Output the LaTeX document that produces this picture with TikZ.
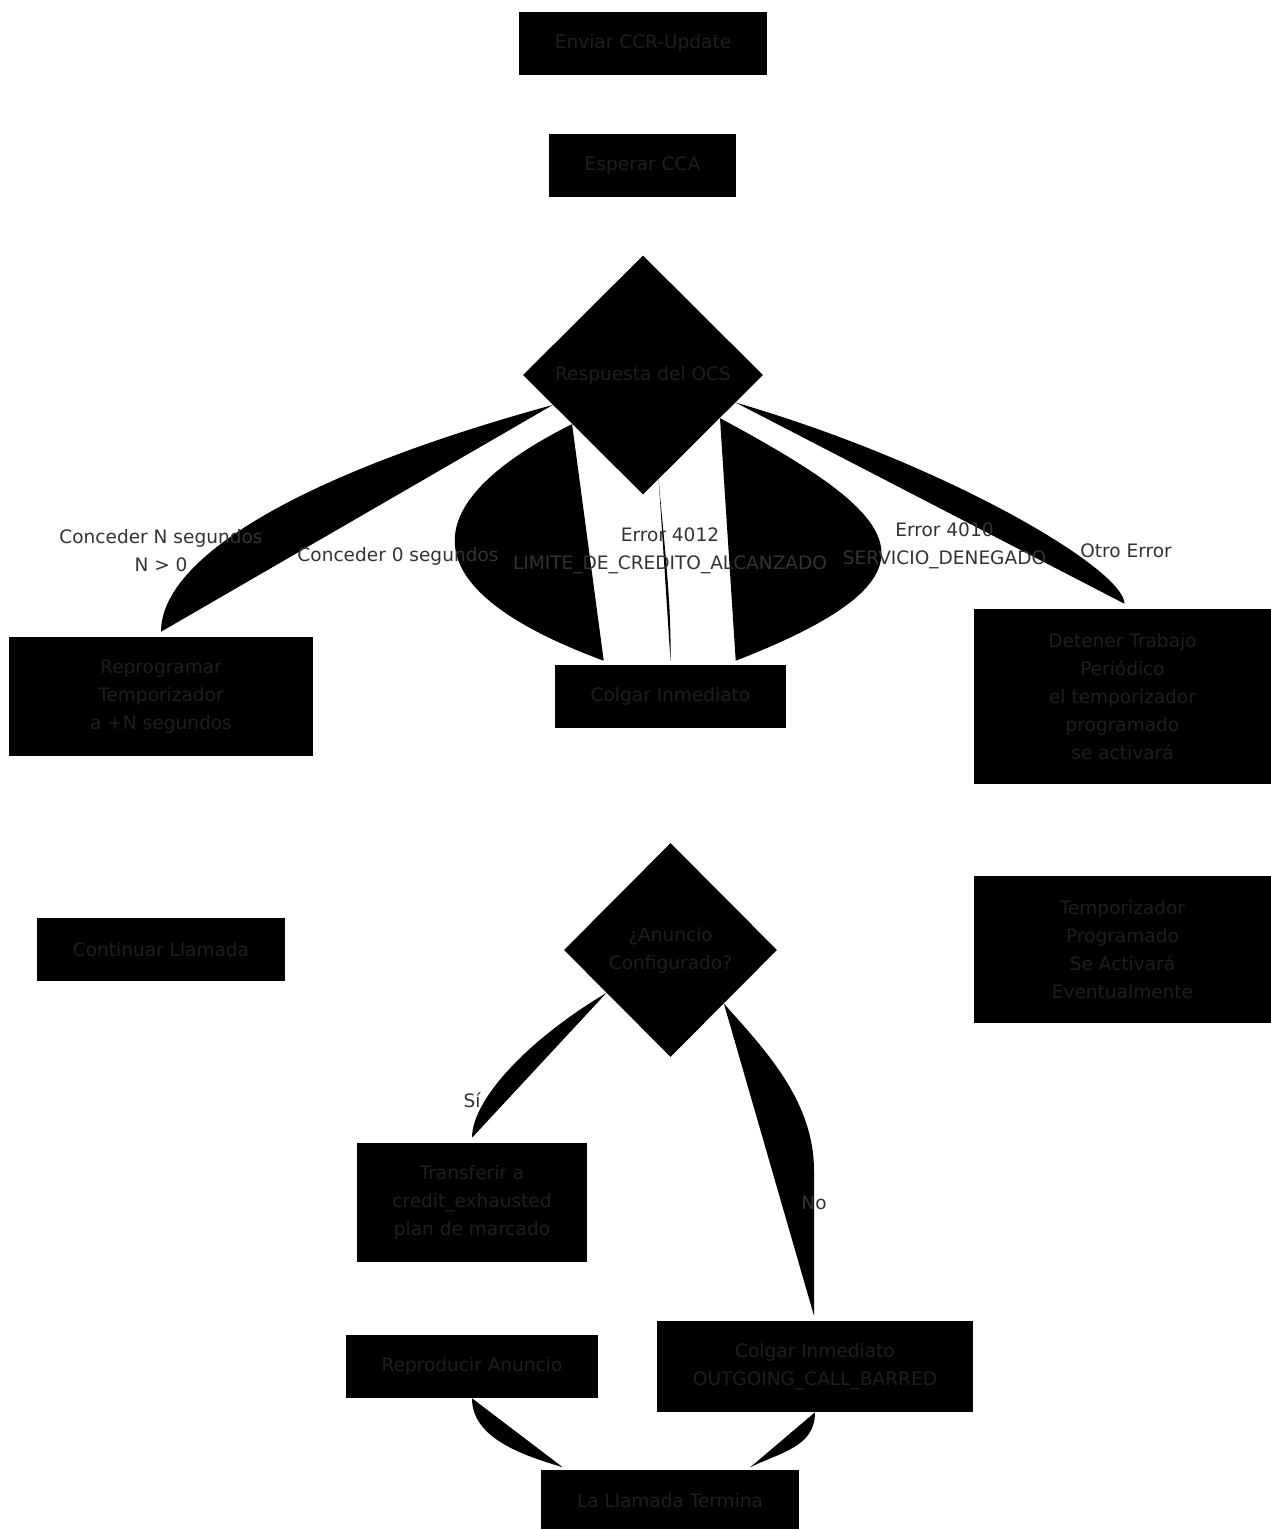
\documentclass[tikz,border=0pt]{standalone}
\usepackage{fontspec}
\setmainfont{DejaVu Sans}
\usetikzlibrary{shapes.geometric,calc}
\definecolor{txtcaja}{RGB}{30,30,34}
\definecolor{txtetiq}{RGB}{51,51,51}

\begin{document}
\begin{tikzpicture}[x=0.75pt,y=-0.75pt]
	\tikzset{
		caja/.style={rectangle, fill=black, text=txtcaja, inner sep=0pt, align=center, font=\fontsize{13.9}{21}\selectfont},
		rombo/.style={diamond, fill=black, text=txtcaja, inner sep=0pt, align=center, font=\fontsize{13.9}{21}\selectfont},
		etiqueta/.style={text=txtetiq, inner sep=0pt, align=center, font=\fontsize{13.9}{21}\selectfont},
		arista/.style={fill=black}
	}
	\useasboundingbox (0,0) rectangle (1271,1529);

	% Inicio
	\node[caja, minimum width=186pt, minimum height=47.25pt] (enviar) at (643,43.5) {Enviar CCR-Update};
	\node[caja, minimum width=140.25pt, minimum height=47.25pt] (esperar) at (642.5,165.5) {Esperar CCA};
	\node[rombo, minimum width=180pt, minimum height=179.25pt] (resp) at (643,375) {Respuesta del OCS};

	% Ramas de la respuesta
	\node[caja, minimum width=228pt, minimum height=89.25pt] (repro) at (161,696.5) {Reprogramar\\Temporizador\\a +N segundos};
	\node[caja, minimum width=173.25pt, minimum height=47.25pt] (colgar) at (670.5,696.5) {Colgar Inmediato};
	\node[caja, minimum width=222.75pt, minimum height=131.25pt] (detener) at (1122.5,696.5) {Detener Trabajo\\Periódico\\el temporizador\\programado\\se activará};
	\node[caja, minimum width=186pt, minimum height=47.25pt] (continuar) at (161,949.5) {Continuar Llamada};
	\node[rombo, minimum width=159.75pt, minimum height=160.5pt] (anuncio) at (670.5,950) {¿Anuncio\\Configurado?};
	\node[caja, minimum width=222.75pt, minimum height=110.25pt] (tempo) at (1122.5,949.5) {Temporizador\\Programado\\Se Activará\\Eventualmente};

	% Final
	\node[caja, minimum width=172.5pt, minimum height=89.25pt] (transf) at (472,1202.5) {Transferir a\\credit\_exhausted\\plan de marcado};
	\node[caja, minimum width=189pt, minimum height=47.25pt] (reprod) at (472,1366.5) {Reproducir Anuncio};
	\node[caja, minimum width=237pt, minimum height=68.25pt] (colgar2) at (815,1366.5) {Colgar Inmediato\\OUTGOING\_CALL\_BARRED};
	\node[caja, minimum width=193.5pt, minimum height=47.25pt] (fin) at (670,1501) {La Llamada Termina};

	% Aristas curvas
	\fill[arista] ($(resp.west)!.25!(resp.south)$) .. controls +(-259,71) and +(0,-72) .. ($(repro.north)+(0,-5)$) -- cycle;
	\fill[arista] ($(resp.west)!.41!(resp.south)$) .. controls +(-152,76) and +(-203,-75) .. ($(colgar.north west)+(49,-4)$) -- cycle;
	\fill[arista] ($(resp.south)!.13!(resp.east)$) .. controls +(5,60) and +(1,-60) .. ($(colgar.north)+(0,-4)$) -- cycle;
	\fill[arista] ($(resp.south)!.64!(resp.east)$) .. controls +(180,97) and +(226,-88) .. ($(colgar.north west)+(181,-4)$) -- cycle;
	\fill[arista] ($(resp.south)!.77!(resp.east)$) .. controls +(213,62) and +(0,-34) .. ($(detener.north)+(2,-5)$) -- cycle;
	\fill[arista] ($(anuncio.west)!.4!(anuncio.south)$) .. controls +(-79,47) and +(0,-38) .. ($(transf.north)+(0,-5)$) -- cycle;
	\fill[arista] (anuncio.south east) .. controls +(41,46) and +(0,-70) .. ($(colgar2.north)+(-1,-150)$) -- ($(colgar2.north)+(-1,-5)$) -- cycle;
	\fill[arista] (reprod.south) .. controls +(0,40) and +(-40,-12) .. ($(fin.north west)+(22,-2)$) -- cycle;
	\fill[arista] (colgar2.south) .. controls +(0,35) and +(30,-15) .. ($(fin.north east)+(-49,-2)$) -- cycle;

	% Etiquetas
	\node[etiqueta] (lab1) at (161,551) {Conceder N segundos\\N > 0};
	\node[etiqueta] (lab2) at (398,556) {Conceder 0 segundos};
	\node[etiqueta] (lab3) at (670,551) {Error 4012\\LIMITE\_DE\_CREDITO\_ALCANZADO};
	\node[etiqueta] (lab4) at (944.5,546) {Error 4010\\SERVICIO\_DENEGADO};
	\node[etiqueta] (lab5) at (1126,551) {Otro Error};
	\node[etiqueta] (lab6) at (472,1100) {Sí};
	\node[etiqueta] (lab7) at (814,1203) {No};
\end{tikzpicture}
\end{document}
